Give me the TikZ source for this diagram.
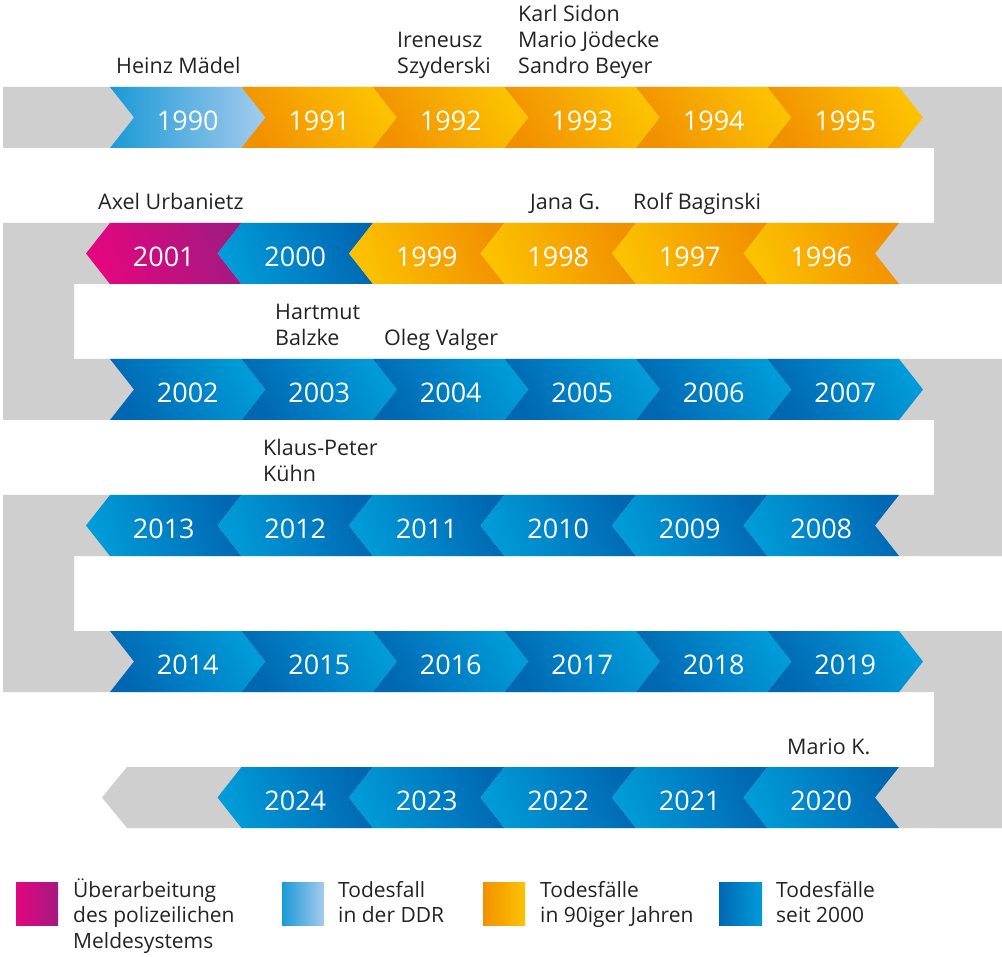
\documentclass[tikz,border=0pt]{standalone}
\usepackage{fontspec}
\setmainfont{Open Sans}

\definecolor{bandgrau}{RGB}{207,207,207}
\definecolor{schrift}{RGB}{35,35,35}
\definecolor{ddrblau}{RGB}{26,154,214}
\definecolor{ddrhell}{RGB}{165,203,238}
\definecolor{orangeA}{RGB}{242,145,0}
\definecolor{gelbA}{RGB}{252,194,0}
\definecolor{blauA}{RGB}{0,104,179}
\definecolor{blauB}{RGB}{0,155,216}
\definecolor{magentaA}{RGB}{227,6,127}
\definecolor{lilaA}{RGB}{164,25,128}

% Pfeil nach rechts: x links oben, y oben, Farbe, Jahr
\newcommand{\pfeilR}[4]{%
  \shade[#3] (#1,#2) -- ++(131.5,0) -- ++(24,30.5) -- ++(-24,30.5) -- ++(-131.5,0) -- ++(24,-30.5) -- cycle;
  \node[jahr] (j#4) at (#1+77.75,#2+33.5) {#4};
}
% Pfeil nach links
\newcommand{\pfeilL}[4]{%
  \shade[#3] (#1,#2) -- ++(131.5,0) -- ++(-24,30.5) -- ++(24,30.5) -- ++(-131.5,0) -- ++(-24,-30.5) -- cycle;
  \node[jahr] (j#4) at (#1+53.75,#2+33.5) {#4};
}

\begin{document}
\begin{tikzpicture}[x=1pt,y=-1pt]

  \tikzstyle{band}=[fill=bandgrau]
  \tikzstyle{jahr}=[text=white,font=\fontsize{27}{32}\selectfont,inner sep=0pt]
  \tikzstyle{opfer}=[text=schrift,font=\fontsize{21.5}{26}\selectfont,align=left,anchor=base west,inner sep=0pt]
  \tikzstyle{legende}=[text=schrift,font=\fontsize{21}{25.5}\selectfont,align=left,anchor=base west,inner sep=0pt]
  \tikzstyle{ddr}=[left color=ddrblau,right color=ddrhell]
  \tikzstyle{neunziger}=[left color=orangeA,right color=gelbA,shading angle=120]
  \tikzstyle{neunzigerL}=[left color=gelbA,right color=orangeA,shading angle=110]
  \tikzstyle{nuller}=[left color=blauA,right color=blauB,shading angle=120]
  \tikzstyle{nullerL}=[left color=blauB,right color=blauA,shading angle=110]
  \tikzstyle{meldung}=[left color=magentaA,right color=lilaA,shading angle=110]

  \useasboundingbox (0,0) rectangle (1002,957);

  \begin{scope}

    % graues Band
    \fill[band] (3,87) rectangle (1002,148)
      (934,87) rectangle (1002,284)
      (3,223) rectangle (1002,284)
      (3,223) rectangle (74,420)
      (3,359) rectangle (1002,420)
      (934,359) rectangle (1002,556)
      (3,495) rectangle (1002,556)
      (3,495) rectangle (74,692)
      (3,631) rectangle (1002,692)
      (934,631) rectangle (1002,828);
    \fill[band] (127,767) -- (1002,767) -- (1002,828) -- (127,828) -- (102,797.5) -- cycle;

    % Reihe 1
    \pfeilR{110}{87}{ddr}{1990}
    \pfeilR{241.5}{87}{neunziger}{1991}
    \pfeilR{373}{87}{neunziger}{1992}
    \pfeilR{504.5}{87}{neunziger}{1993}
    \pfeilR{636}{87}{neunziger}{1994}
    \pfeilR{767.5}{87}{neunziger}{1995}

    % Reihe 2
    \pfeilL{110}{223}{meldung}{2001}
    \pfeilL{241.5}{223}{nullerL}{2000}
    \pfeilL{373}{223}{neunzigerL}{1999}
    \pfeilL{504.5}{223}{neunzigerL}{1998}
    \pfeilL{636}{223}{neunzigerL}{1997}
    \pfeilL{767.5}{223}{neunzigerL}{1996}

    % Reihe 3
    \pfeilR{110}{359}{nuller}{2002}
    \pfeilR{241.5}{359}{nuller}{2003}
    \pfeilR{373}{359}{nuller}{2004}
    \pfeilR{504.5}{359}{nuller}{2005}
    \pfeilR{636}{359}{nuller}{2006}
    \pfeilR{767.5}{359}{nuller}{2007}

    % Reihe 4
    \pfeilL{110}{495}{nullerL}{2013}
    \pfeilL{241.5}{495}{nullerL}{2012}
    \pfeilL{373}{495}{nullerL}{2011}
    \pfeilL{504.5}{495}{nullerL}{2010}
    \pfeilL{636}{495}{nullerL}{2009}
    \pfeilL{767.5}{495}{nullerL}{2008}

    % Reihe 5
    \pfeilR{110}{631}{nuller}{2014}
    \pfeilR{241.5}{631}{nuller}{2015}
    \pfeilR{373}{631}{nuller}{2016}
    \pfeilR{504.5}{631}{nuller}{2017}
    \pfeilR{636}{631}{nuller}{2018}
    \pfeilR{767.5}{631}{nuller}{2019}

    % Reihe 6
    \pfeilL{241.5}{767}{nullerL}{2024}
    \pfeilL{373}{767}{nullerL}{2023}
    \pfeilL{504.5}{767}{nullerL}{2022}
    \pfeilL{636}{767}{nullerL}{2021}
    \pfeilL{767.5}{767}{nullerL}{2020}

    % Namen
    \node[opfer] (heinz) at (116,74) {Heinz Mädel};
    \node[opfer] (ireneusz) at (397,74) {Ireneusz\\Szyderski};
    \node[opfer] (karl) at (518,74) {Karl Sidon\\Mario Jödecke\\Sandro Beyer};
    \node[opfer] (axel) at (98,210) {Axel Urbanietz};
    \node[opfer] (jana) at (530,210) {Jana G.};
    \node[opfer] (rolf) at (633,210) {Rolf Baginski};
    \node[opfer] (hartmut) at (275,346) {Hartmut\\Balzke};
    \node[opfer] (oleg) at (384,346) {Oleg Valger};
    \node[opfer] (klaus) at (263,482) {Klaus-Peter\\Kühn};
    \node[opfer] (mario) at (787,754) {Mario K.};

    % Legende
    \shade[meldung,shading angle=90] (16,882) rectangle (58,925);
    \shade[ddr] (282,882) rectangle (324,925);
    \shade[neunziger,shading angle=90] (483,882) rectangle (525,925);
    \shade[nuller,shading angle=90] (719,882) rectangle (762,925);

    \node[legende] (l1) at (73,948) {Überarbeitung\\des polizeilichen\\Meldesystems};
    \node[legende] (l2) at (338,922.5) {Todesfall\\in der DDR};
    \node[legende] (l3) at (540,922.5) {Todesfälle\\in 90iger Jahren};
    \node[legende] (l4) at (776,922.5) {Todesfälle\\seit 2000};

  \end{scope}

\end{tikzpicture}
\end{document}
